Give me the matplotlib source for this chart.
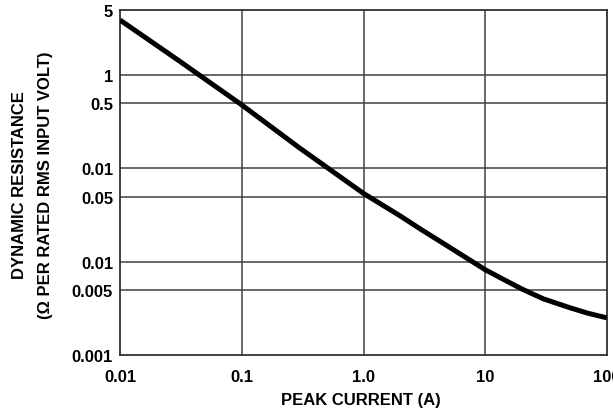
import matplotlib.pyplot as plt
from matplotlib.ticker import FixedLocator, NullLocator

# curve (peak current in A, dynamic resistance)
peak_current = [0.01, 0.03, 0.1, 0.3, 1.0, 2.0, 3.0, 5.0, 10.0, 15.0, 20.0, 30.0, 50.0, 70.0, 100.0]
dyn_resistance = [3.9, 1.45, 0.48, 0.165, 0.054, 0.031, 0.022, 0.0145, 0.0082,
                  0.0062, 0.0051, 0.0040, 0.0032, 0.0028, 0.0025]

x_ticks = [0.01, 0.1, 1.0, 10, 100]
x_labels = ["0.01", "0.1", "1.0", "10", "100"]
y_ticks = [0.001, 0.005, 0.01, 0.05, 0.1, 0.5, 1, 5]
y_labels = ["0.001", "0.005", "0.01", "0.05", "0.01", "0.5", "1", "5"]
y_grid = [0.005, 0.01, 0.05, 0.1, 0.5, 1]

plt.rcParams['font.family'] = ['Liberation Sans', 'DejaVu Sans']
plt.rcParams['font.weight'] = 'bold'

fig = plt.figure(figsize=(6.13, 4.10), dpi=100)
ax = fig.add_axes([0.1958, 0.1317, 0.7944, 0.8415])

ax.plot(peak_current, dyn_resistance, color='black', linewidth=3.6,
        solid_capstyle='butt', solid_joinstyle='round', zorder=3)

ax.set_xscale('log')
ax.set_yscale('log')
ax.set_xlim(0.01, 100)
ax.set_ylim(0.001, 5)

ax.xaxis.set_major_locator(FixedLocator(x_ticks))
ax.xaxis.set_minor_locator(NullLocator())
ax.set_xticklabels(x_labels)
ax.yaxis.set_major_locator(FixedLocator(y_ticks))
ax.yaxis.set_minor_locator(NullLocator())
ax.set_yticklabels(y_labels)
ax.tick_params(length=0, labelsize=12)
ax.tick_params(axis='x', pad=10)
ax.tick_params(axis='y', pad=5)
for lab in ax.get_xticklabels() + ax.get_yticklabels():
    lab.set_fontweight('bold')

for xv in x_ticks[1:-1]:
    ax.axvline(xv, color='#404040', linewidth=1.1, zorder=1)
for yv in y_grid:
    ax.axhline(yv, color='#404040', linewidth=1.1, zorder=1)

for side in ['left', 'bottom', 'top', 'right']:
    ax.spines[side].set_color('#303030')
    ax.spines[side].set_linewidth(1.3)

# axis titles placed directly on the figure
fig.text(0.588, 0.024, 'PEAK CURRENT (A)', ha='center', va='center',
         fontsize=12, fontweight='bold')
fig.text(0.031, 0.548, 'DYNAMIC RESISTANCE', rotation=90, ha='center', va='center',
         fontsize=12, fontweight='bold')
fig.text(0.075, 0.548, '(Ω PER RATED RMS INPUT VOLT)', rotation=90, ha='center',
         va='center', fontsize=12, fontweight='bold')

fig.savefig('out.png', dpi=100)
